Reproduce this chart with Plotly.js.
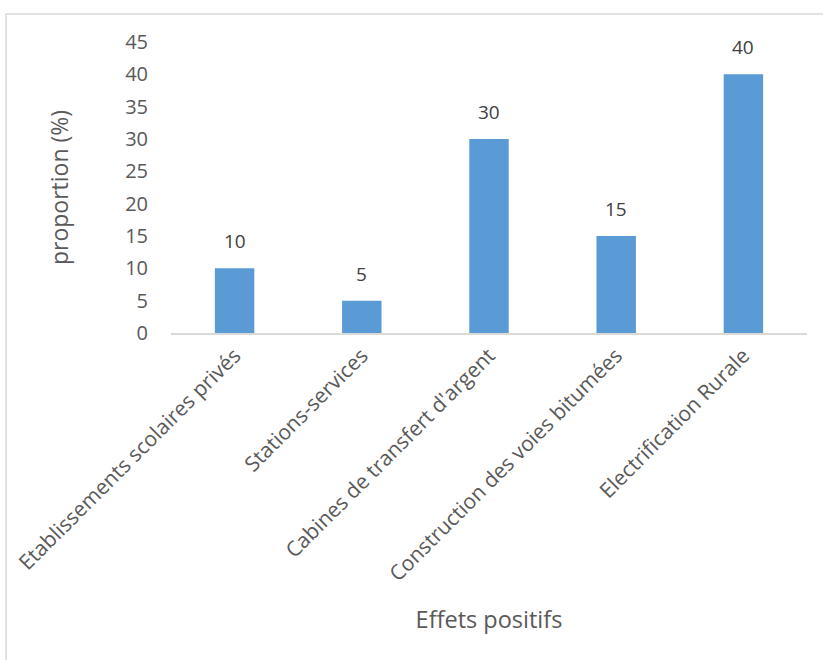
<!DOCTYPE html>
<html><head><meta charset="utf-8">
<script src="https://cdn.plot.ly/plotly-3.0.1.min.js"></script>
<style>html,body{margin:0;padding:0;background:#fff;}#chart{width:823px;height:660px;}</style>
</head><body><div id="chart"></div>
<script>
var categories = ["Etablissements scolaires privés", "Stations-services", "Cabines de transfert d'argent", "Construction des voies bitumées", "Electrification Rurale"];
var values = [10, 5, 30, 15, 40];
var yTicks = [0, 5, 10, 15, 20, 25, 30, 35, 40, 45];

var FONT = "Open Sans, Liberation Sans, sans-serif";
var trace = {
  type: "bar", x: categories, y: values,
  marker: {color: "#5b9bd5", line: {color: "#5b9bd5", width: 0}},
  hoverinfo: "none"
};
var ann = categories.map(function(c, i){
  return {x: c, y: values[i], xref: "x", yref: "y", text: String(values[i]), showarrow: false,
    yanchor: "bottom", yshift: 12, font: {family: FONT, size: 19, color: "#404040"}};
});
var layout = {
  width: 823, height: 660,
  margin: {l: 171, r: 16, t: 42, b: 327},
  paper_bgcolor: "#fff", plot_bgcolor: "#fff",
  bargap: 0.69,
  showlegend: false,
  xaxis: {
    type: "category", tickangle: -45, showgrid: false, zeroline: false,
    showline: true, linecolor: "#d9d9d9", linewidth: 2, ticks: "",
    tickfont: {family: FONT, size: 21, color: "#595959"},
    title: {text: "Effets positifs", font: {family: FONT, size: 23.5, color: "#595959"}, standoff: 26}
  },
  yaxis: {
    range: [0, 45], tickvals: yTicks, showgrid: false, zeroline: false, showline: false, ticks: "",
    tickfont: {family: FONT, size: 20, color: "#595959"}, ticklabelstandoff: 22,
    title: {text: "proportion (%)", font: {family: FONT, size: 23, color: "#595959"}, standoff: 50}
  },
  annotations: ann,
  shapes: [{type: "rect", xref: "paper", yref: "paper", x0: -0.2594, x1: 1.04, y0: -1.16, y1: 1.096,
    line: {color: "#d9d9d9", width: 1.5}, fillcolor: "rgba(0,0,0,0)", layer: "below"}]
};
Plotly.newPlot("chart", [trace], layout, {staticPlot: true, displayModeBar: false});
</script></body></html>
